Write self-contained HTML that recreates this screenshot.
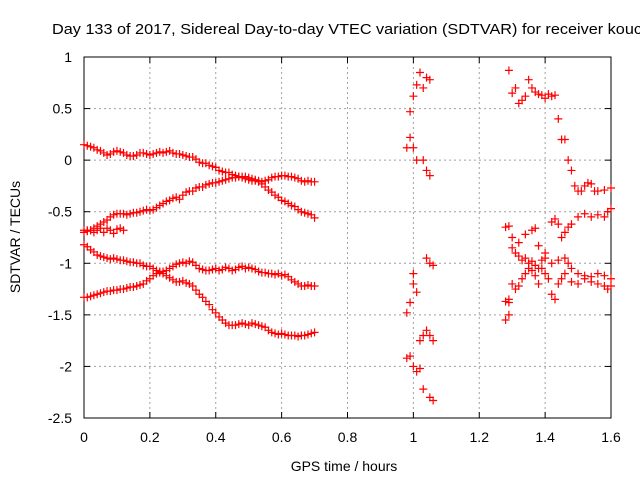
<!DOCTYPE html>
<html><head><meta charset="utf-8"><style>
body{margin:0;background:#fff}
svg{display:block;font-family:"Liberation Sans",sans-serif}
</style></head><body>
<svg width="640" height="480" viewBox="0 0 640 480">
<rect width="640" height="480" fill="#fff"/>
<g id="grid"></g>
<g id="axes"></g>
<g id="marks"></g>
<text x="52" y="34" font-size="15" textLength="590" lengthAdjust="spacingAndGlyphs">Day 133 of 2017, Sidereal Day-to-day VTEC variation (SDTVAR) for receiver kouc</text>
<text x="344" y="471" font-size="14" text-anchor="middle">GPS time / hours</text>
<text transform="translate(20,237) rotate(-90)" font-size="14" text-anchor="middle">SDTVAR / TECUs</text>
</svg>
<script>
const xTicks=[0,0.2,0.4,0.6,0.8,1,1.2,1.4,1.6];
const xTickLabels=["0","0.2","0.4","0.6","0.8","1","1.2","1.4","1.6"];
const yTicks=[1,0.5,0,-0.5,-1,-1.5,-2,-2.5];
const yTickLabels=["1","0.5","0","-0.5","-1","-1.5","-2","-2.5"];
const seriesA=[0.15,0.14,0.13,0.12,0.10,0.09,0.07,0.05,0.06,0.08,0.09,0.08,0.07,0.05,0.04,0.04,0.05,0.07,0.07,0.06,0.05,0.06,0.07,0.08,0.07,0.08,0.09,0.07,0.06,0.06,0.05,0.04,0.03,0.03,0.01,-0.02,-0.03,-0.03,-0.05,-0.06,-0.07,-0.10,-0.11,-0.12,-0.12,-0.14,-0.15,-0.16,-0.16,-0.18,-0.19,-0.20,-0.20,-0.21,-0.23,-0.26,-0.29,-0.31,-0.34,-0.36,-0.39,-0.40,-0.42,-0.44,-0.45,-0.48,-0.50,-0.51,-0.52,-0.53,-0.56];
const seriesB=[-0.68,-0.69,-0.68,-0.66,-0.64,-0.62,-0.60,-0.58,-0.55,-0.53,-0.52,-0.52,-0.52,-0.53,-0.52,-0.51,-0.51,-0.50,-0.49,-0.48,-0.49,-0.48,-0.46,-0.44,-0.42,-0.40,-0.39,-0.37,-0.36,-0.38,-0.34,-0.31,-0.30,-0.30,-0.27,-0.26,-0.26,-0.24,-0.23,-0.22,-0.22,-0.21,-0.20,-0.19,-0.18,-0.17,-0.17,-0.16,-0.17,-0.16,-0.17,-0.18,-0.19,-0.20,-0.21,-0.20,-0.19,-0.17,-0.16,-0.16,-0.15,-0.15,-0.16,-0.16,-0.17,-0.18,-0.20,-0.21,-0.20,-0.21,-0.21];
const seriesC=[-0.70,-0.68,-0.68,-0.70,-0.68,-0.66,-0.70,-0.66,-0.68,-0.71,-0.67,-0.66,-0.68];
const seriesD=[-0.82,-0.84,-0.87,-0.89,-0.92,-0.93,-0.94,-0.95,-0.96,-0.95,-0.96,-0.97,-0.97,-0.98,-0.99,-0.99,-1.00,-1.00,-1.02,-1.03,-1.03,-1.05,-1.07,-1.08,-1.10,-1.12,-1.14,-1.16,-1.18,-1.18,-1.17,-1.19,-1.20,-1.22,-1.26,-1.30,-1.33,-1.37,-1.40,-1.45,-1.48,-1.52,-1.55,-1.58,-1.60,-1.60,-1.60,-1.59,-1.58,-1.59,-1.60,-1.58,-1.59,-1.60,-1.61,-1.62,-1.65,-1.67,-1.68,-1.69,-1.68,-1.69,-1.70,-1.70,-1.70,-1.71,-1.70,-1.70,-1.69,-1.68,-1.67];
const seriesE=[-1.33,-1.33,-1.32,-1.31,-1.30,-1.29,-1.28,-1.27,-1.27,-1.26,-1.26,-1.25,-1.25,-1.24,-1.23,-1.23,-1.22,-1.21,-1.20,-1.17,-1.15,-1.12,-1.10,-1.09,-1.08,-1.07,-1.05,-1.03,-1.01,-1.00,-0.99,-1.00,-0.98,-0.99,-1.02,-1.05,-1.06,-1.07,-1.07,-1.06,-1.05,-1.07,-1.06,-1.04,-1.05,-1.07,-1.06,-1.04,-1.03,-1.05,-1.04,-1.05,-1.06,-1.08,-1.09,-1.09,-1.10,-1.10,-1.11,-1.10,-1.12,-1.11,-1.13,-1.16,-1.18,-1.20,-1.22,-1.22,-1.21,-1.22,-1.22];
const scatterX=[0.98,0.99,1.0,1.0,1.01,0.98,0.99,0.99,1.0,1.01,1.02,1.03,1.04,1.05,1.0,1.01,1.03,1.04,1.05,1.04,1.05,1.06,0.98,0.99,1.0,1.01,1.02,1.03,1.04,1.05,1.06,1.03,1.05,1.06,1.02,
1.29,1.30,1.31,1.32,1.33,1.34,1.35,1.36,1.37,1.38,1.39,1.40,1.41,1.42,1.43,1.44,1.45,1.46,1.47,1.48,1.49,1.50,1.51,1.52,1.53,1.54,1.55,1.56,1.58,1.60,
1.28,1.29,1.30,1.32,1.34,1.36,1.37,1.38,1.40,1.42,1.43,1.44,1.45,1.46,1.47,1.48,1.50,1.52,1.54,1.56,1.58,1.59,1.60,
1.30,1.31,1.32,1.33,1.34,1.35,1.36,1.37,1.38,1.39,1.40,1.42,1.44,1.46,1.47,1.48,1.50,1.52,1.54,1.56,1.58,1.60,
1.29,1.30,1.31,1.32,1.33,1.34,1.35,1.36,1.37,1.38,1.39,1.40,1.41,1.42,1.43,1.44,1.45,1.46,1.48,1.50,1.52,1.54,1.56,1.58,1.59,1.60,
1.28,1.29,1.28,1.29];
const scatterY=[-1.48,-1.38,-1.1,-1.2,-1.28,0.12,0.22,0.47,0.62,0.73,0.85,0.7,0.8,0.78,0.12,0,0,-0.1,-0.15,-0.95,-1.0,-1.02,-1.92,-1.9,-2.0,-2.05,-1.75,-1.7,-1.65,-1.7,-1.75,-2.22,-2.3,-2.33,-2.02,
0.87,0.65,0.7,0.55,0.58,0.62,0.78,0.7,0.66,0.64,0.63,0.6,0.64,0.62,0.63,0.4,0.2,0.2,0,-0.1,-0.25,-0.3,-0.3,-0.25,-0.22,-0.23,-0.3,-0.3,-0.29,-0.27,
-0.65,-0.64,-0.75,-0.8,-0.72,-0.68,-0.66,-0.83,-0.9,-0.6,-0.57,-0.62,-0.75,-0.7,-0.65,-0.62,-0.55,-0.52,-0.55,-0.53,-0.55,-0.5,-0.47,
-0.85,-0.9,-0.93,-0.97,-0.95,-1.0,-0.98,-1.02,-1.05,-0.97,-0.95,-1.0,-0.97,-0.95,-1.0,-1.05,-1.1,-1.12,-1.13,-1.1,-1.12,-1.15,
-1.35,-1.2,-1.25,-1.22,-1.15,-1.1,-1.05,-1.07,-1.12,-1.2,-1.05,-1.1,-1.15,-1.3,-1.35,-1.2,-1.15,-1.1,-1.18,-1.2,-1.15,-1.18,-1.2,-1.22,-1.25,-1.22,
-1.55,-1.5,-1.37,-1.38];
const NS="http://www.w3.org/2000/svg";
const L=84,R=611,T=57,B=418;
function sx(v){return L+(v-0)/(1.6-0)*(R-L);}
function sy(v){return T+(1-v)/(1-(-2.5))*(B-T);}
function mk(tag,attrs,parent){const e=document.createElementNS(NS,tag);for(const k in attrs)e.setAttribute(k,attrs[k]);parent.appendChild(e);return e;}
const grid=document.getElementById('grid'),axes=document.getElementById('axes'),marks=document.getElementById('marks');
xTicks.forEach((t,i)=>{const x=sx(t);
 if(i>0&&i<xTicks.length-1){const g=mk('line',{x1:x,x2:x,y1:T,y2:B,stroke:'#a0a0a0','stroke-dasharray':'2,3'},grid);
 
 }
 mk('line',{x1:x,x2:x,y1:B,y2:B-6,stroke:'#000'},axes);mk('line',{x1:x,x2:x,y1:T,y2:T+6,stroke:'#000'},axes);
 const tx=mk('text',{x:x,y:442,'font-size':14,'text-anchor':'middle'},axes);tx.textContent=xTickLabels[i];
 
 });
yTicks.forEach((t,i)=>{const y=sy(t);
 if(i>0&&i<yTicks.length-1){const g=mk('line',{x1:L,x2:R,y1:y,y2:y,stroke:'#a0a0a0','stroke-dasharray':'2,3'},grid);
 
 }
 mk('line',{x1:L,x2:L+6,y1:y,y2:y,stroke:'#000'},axes);mk('line',{x1:R,x2:R-6,y1:y,y2:y,stroke:'#000'},axes);
 const tx=mk('text',{x:72,y:y+5,'font-size':14,'text-anchor':'end'},axes);tx.textContent=yTickLabels[i];
 
 });
const fr=mk('rect',{x:L,y:T,width:R-L,height:B-T,fill:'none',stroke:'#000'},axes);


function plus(xv,yv){const x=sx(xv),y=sy(yv);
 const p=mk('path',{d:`M${x-4} ${y}H${x+4}M${x} ${y-4}V${y+4}`,stroke:'#ff0000','stroke-width':1.2,fill:'none'},marks);
 
 }
[seriesA,seriesB,seriesC,seriesD,seriesE].forEach(s=>s.forEach((v,i)=>plus(i*0.01,v)));
scatterX.forEach((x,i)=>plus(x,scatterY[i]));
</script>
</body></html>
